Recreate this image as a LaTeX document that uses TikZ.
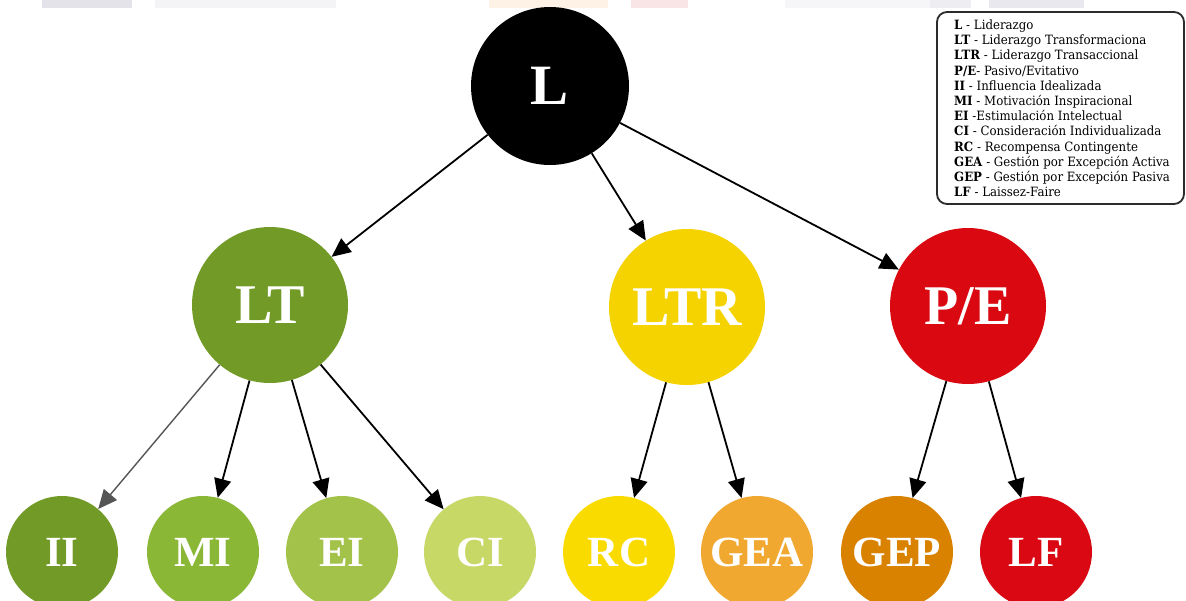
\documentclass[tikz,border=0pt]{standalone}
\usepackage{fontspec}
\setmainfont{Liberation Serif}
\newfontfamily\legfont[FakeStretch=0.92]{DejaVu Serif}
\usetikzlibrary{arrows.meta}

\definecolor{cL}{HTML}{000000}
\definecolor{cLT}{HTML}{729A27}
\definecolor{cLTR}{HTML}{F5D300}
\definecolor{cPE}{HTML}{DA0811}
\definecolor{cII}{HTML}{729A27}
\definecolor{cMI}{HTML}{8BB737}
\definecolor{cEI}{HTML}{A3C24A}
\definecolor{cCI}{HTML}{C8D866}
\definecolor{cRC}{HTML}{FADB00}
\definecolor{cGEA}{HTML}{F0A830}
\definecolor{cGEP}{HTML}{D98200}
\definecolor{cLF}{HTML}{D90812}
\definecolor{legframe}{HTML}{2B2B2B}
\definecolor{edgegray}{HTML}{555555}

\begin{document}
\begin{tikzpicture}[x=1pt,y=-1pt,
  bubble/.style={circle, inner sep=0pt, text=white},
  rootnode/.style={bubble, minimum size=158pt, font=\bfseries\fontsize{57}{60}\selectfont},
  midnode/.style={bubble, minimum size=156pt, font=\bfseries\fontsize{56}{60}\selectfont},
  leafnode/.style={bubble, minimum size=112pt, font=\bfseries\fontsize{43}{46}\selectfont},
  link/.style={draw=black, line width=1.8pt, -{Triangle[length=19pt,width=17pt]}},
  thinlink/.style={link, draw=edgegray, line width=1.4pt},
  legline/.style={anchor=base west, inner sep=0pt, font=\legfont\fontsize{12.8}{14}\selectfont},
  strip/.style={draw=none}]
\useasboundingbox (0,0) rectangle (1186,600);
\clip (0,0) rectangle (1186,600);
\fill[white] (0,0) rectangle (1186,600);

% faint strips along the top edge
\fill[strip, fill={rgb,255:red,228;green,227;blue,234}] (42,0) rectangle (132,8);
\fill[strip, fill={rgb,255:red,244;green,244;blue,246}] (155,0) rectangle (336,8);
\fill[strip, fill={rgb,255:red,254;green,242;blue,230}] (489,0) rectangle (608,8);
\fill[strip, fill={rgb,255:red,249;green,228;blue,230}] (631,0) rectangle (688,8);
\fill[strip, fill={rgb,255:red,246;green,246;blue,248}] (785,0) rectangle (930,8);
\fill[strip, fill={rgb,255:red,238;green,238;blue,242}] (930,0) rectangle (971,8);
\fill[strip, fill={rgb,255:red,232;green,232;blue,238}] (989,0) rectangle (1084,8);

% tree nodes
\node[rootnode, fill=cL]   (L)   at (550,86)  {L};
\node[midnode, fill=cLT]   (LT)  at (270,305) {LT};
\node[midnode, fill=cLTR]  (LTR) at (687,307) {LTR};
\node[midnode, fill=cPE]   (PE)  at (968,306) {P/E};

\node[leafnode, fill=cII]  (II)  at (62,552)   {II};
\node[leafnode, fill=cMI]  (MI)  at (203,552)  {MI};
\node[leafnode, fill=cEI]  (EI)  at (342,552)  {EI};
\node[leafnode, fill=cCI]  (CI)  at (480,552)  {CI};
\node[leafnode, fill=cRC]  (RC)  at (619,552)  {RC};
\node[leafnode, fill=cGEA] (GEA) at (757,552)  {GEA};
\node[leafnode, fill=cGEP] (GEP) at (897,552)  {GEP};
\node[leafnode, fill=cLF]  (LF)  at (1036,552) {LF};

% connectors
\draw[link] (L) -- (LT);
\draw[link] (L) -- (LTR);
\draw[link] (L) -- (PE);
\draw[thinlink] (LT) -- (II);
\draw[link] (LT) -- (MI);
\draw[link] (LT) -- (EI);
\draw[link] (LT) -- (CI);
\draw[link] (LTR) -- (RC);
\draw[link] (LTR) -- (GEA);
\draw[link] (PE) -- (GEP);
\draw[link] (PE) -- (LF);

% legend
\draw[legframe, line width=1.8pt, rounded corners=10pt] (937,12) rectangle (1184,204);
\foreach \t [count=\i from 0] in {
  {\textbf{L} - Liderazgo},
  {\textbf{LT} - Liderazgo Transformaciona},
  {\textbf{LTR} - Liderazgo Transaccional},
  {\textbf{P/E}- Pasivo/Evitativo},
  {\textbf{II} - Influencia Idealizada},
  {\textbf{MI} - Motivación Inspiracional},
  {\textbf{EI} -Estimulación Intelectual},
  {\textbf{CI} - Consideración Individualizada},
  {\textbf{RC} - Recompensa Contingente},
  {\textbf{GEA} - Gestión por Excepción Activa},
  {\textbf{GEP} - Gestión por Excepción Pasiva},
  {\textbf{LF} - Laissez-Faire}}
  \node[legline] (leg\i) at (954,{29.5+15.2*\i}) {\t};
\end{tikzpicture}
\end{document}
